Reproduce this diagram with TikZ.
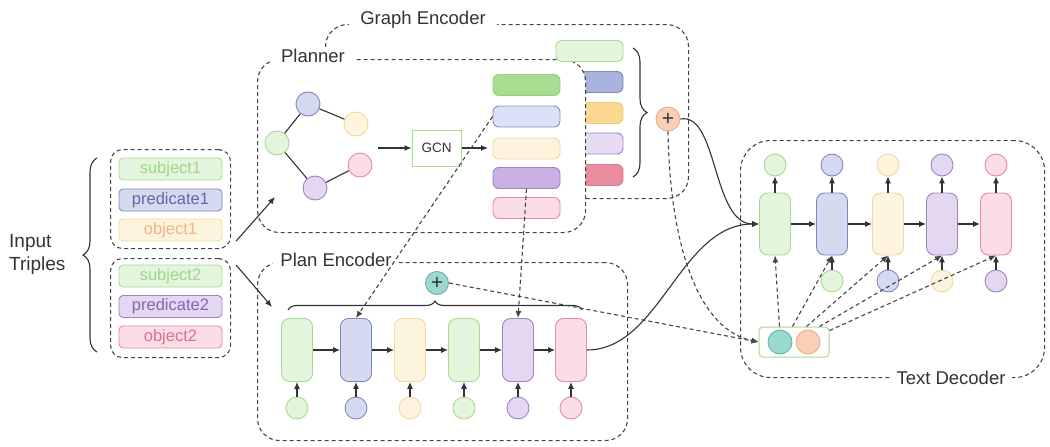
\documentclass[tikz,border=0pt]{standalone}
\usepackage{fontspec}
\setmainfont{Liberation Sans}
\usetikzlibrary{arrows.meta,decorations.pathreplacing,calc}

\definecolor{gF}{HTML}{E4F5DD}
\definecolor{gD}{HTML}{A9DA92}
\definecolor{gF2}{HTML}{A9DD92}
\definecolor{gD2}{HTML}{93CF7C}
\definecolor{gF3}{HTML}{E4F7DE}
\definecolor{bF}{HTML}{D6DAF1}
\definecolor{bD}{HTML}{7F89C1}
\definecolor{bF2}{HTML}{AAB3DE}
\definecolor{bF3}{HTML}{DDE1F5}
\definecolor{bD3}{HTML}{8890C5}
\definecolor{yF}{HTML}{FDF4DE}
\definecolor{yD}{HTML}{F3DA9C}
\definecolor{yF2}{HTML}{FCD993}
\definecolor{yD2}{HTML}{F2CC7A}
\definecolor{pF}{HTML}{E3D7F2}
\definecolor{pD}{HTML}{9E84C4}
\definecolor{pF2}{HTML}{C9B1E3}
\definecolor{pF3}{HTML}{E8DCF4}
\definecolor{rF}{HTML}{FBDDE5}
\definecolor{rD}{HTML}{E38CA2}
\definecolor{rF2}{HTML}{EA8C9F}
\definecolor{rD2}{HTML}{DE7A90}
\definecolor{tF}{HTML}{9ADACE}
\definecolor{tD}{HTML}{66B3A6}
\definecolor{oF}{HTML}{F9CFB8}
\definecolor{oD}{HTML}{EBAA8A}
\definecolor{ln}{HTML}{333333}
\definecolor{dl}{HTML}{444444}
\definecolor{txG}{HTML}{9FD68A}
\definecolor{txB}{HTML}{5E6AA6}
\definecolor{txY}{HTML}{F0B488}
\definecolor{txP}{HTML}{8668B2}
\definecolor{txR}{HTML}{D8728C}

\begin{document}
\begin{tikzpicture}[x=1pt,y=-1pt,
  lbl/.style={font=\fontsize{18.5}{22}\selectfont, text=ln, inner sep=0pt},
  dbox/.style={draw=dl, line width=1.1pt, dash pattern=on 4pt off 3pt, rounded corners=22pt, fill=white, inner sep=0pt},
  tbox/.style={draw=dl, line width=1.1pt, dash pattern=on 4pt off 3pt, rounded corners=12pt, inner sep=0pt, minimum width=120pt, minimum height=99pt},
  trip/.style={rounded corners=4pt, line width=0.9pt, minimum width=103pt, minimum height=22pt, inner sep=0pt, font=\fontsize{16.5}{18}\selectfont},
  bar/.style={rounded corners=6pt, line width=0.9pt, minimum width=67pt, minimum height=21pt, inner sep=0pt},
  cell/.style={rounded corners=8pt, line width=0.9pt, minimum width=31pt, minimum height=63pt, inner sep=0pt},
  circ/.style={circle, line width=0.9pt, minimum size=22pt, inner sep=0pt},
  plus/.style={font=\fontsize{21}{21}\selectfont, text=ln},
  Gs/.style={fill=gF, draw=gD},
  Bs/.style={fill=bF, draw=bD},
  Ys/.style={fill=yF, draw=yD},
  Ps/.style={fill=pF, draw=pD},
  Rs/.style={fill=rF, draw=rD},
  arr/.style={draw=ln, line width=1.1pt, -{Latex[length=7pt,width=6pt]}},
  darr/.style={draw=dl, line width=1.1pt, dash pattern=on 4pt off 3pt, -{Latex[length=7pt,width=6pt]}},
  sline/.style={draw=ln, line width=1.1pt},
  brc/.style={draw=ln, line width=1.1pt, decorate}
]
\useasboundingbox (0,0) rectangle (1050,447);

% ---------------- Input triples
\node[lbl, anchor=west, align=left, font=\fontsize{19}{23}\selectfont] (inp) at (9,254) {Input\\Triples};
\coordinate (brA) at (97,352);
\coordinate (brB) at (97,158);
\draw[brc, decoration={brace, amplitude=14pt}] (brA) -- (brB);

\node[tbox, anchor=north west] (tb1) at (110,149) {};
\node[tbox, anchor=north west] (tb2) at (110,258) {};
\node[trip, Gs, text=txG] (s1) at (170.5,169) {subject1};
\node[trip, Bs, text=txB] (p1) at (170.5,200) {predicate1};
\node[trip, Ys, text=txY] (o1) at (170.5,230) {object1};
\node[trip, Gs, text=txG] (s2) at (170.5,276) {subject2};
\node[trip, Ps, text=txP] (p2) at (170.5,306.5) {predicate2};
\node[trip, Rs, text=txR] (o2) at (170.5,337) {object2};

% ---------------- Graph Encoder
\node[dbox, anchor=north west, minimum width=363pt, minimum height=174pt] (gebox) at (325,24) {};
\node[lbl, fill=white, inner xsep=11pt, inner ysep=2pt] (gelbl) at (423,20) {Graph Encoder};
\node[bar, fill=bF2, draw=bD] (gb2) at (589.5,82) {};
\node[bar, fill=yF2, draw=yD2] (gb3) at (589.5,113) {};
\node[bar, fill=pF3, draw=pD] (gb4) at (589.5,143.5) {};
\node[bar, fill=rF2, draw=rD2] (gb5) at (589.5,175) {};
\coordinate (gbrA) at (633,48);
\coordinate (gbrB) at (633,177);
\draw[brc, decoration={brace, amplitude=14pt}] (gbrA) -- (gbrB);
\node[circ, fill=oF, draw=oD, minimum size=24pt, plus] (oplus) at (668,119) {+};

% ---------------- Planner
\node[dbox, anchor=north west, minimum width=328pt, minimum height=173pt] (plbox) at (257,59) {};
\node[lbl, fill=white, inner xsep=9pt, inner ysep=2pt] (pllbl) at (313,56) {Planner};
\node[bar, fill=gF3, draw=gD] (gb1) at (589.5,51) {};

\node[circ, Bs, minimum size=24pt] (n1) at (308,104) {};
\node[circ, Ys, minimum size=24pt] (n2) at (356,124) {};
\node[circ, Gs, minimum size=24pt] (n3) at (277,143) {};
\node[circ, Rs, minimum size=24pt] (n4) at (360,165) {};
\node[circ, Ps, minimum size=24pt] (n5) at (315,188) {};
\draw[sline] (n3) -- (n1);
\draw[sline] (n1) -- (n2);
\draw[sline] (n3) -- (n5);
\draw[sline] (n5) -- (n4);

\node[draw=gD, fill=white, line width=1pt, minimum width=49pt, minimum height=36pt, inner sep=0pt, font=\fontsize{13.5}{15}\selectfont, text=ln] (gcn) at (436.5,148) {GCN};
\coordinate (gin) at (378,148);
\coordinate (gout) at (488,148);
\draw[arr] (gin) -- (gcn.west);
\draw[arr] (gcn.east) -- (gout);

\node[bar, fill=gF2, draw=gD2] (pb1) at (526.5,85) {};
\node[bar, fill=bF3, draw=bD3] (pb2) at (526.5,116.5) {};
\node[bar, fill=yF, draw=yD] (pb3) at (526.5,148.5) {};
\node[bar, fill=pF2, draw=pD] (pb4) at (526.5,178) {};
\node[bar, fill=rF, draw=rD] (pb5) at (526.5,208) {};

% ---------------- Plan Encoder
\node[dbox, anchor=north west, minimum width=370pt, minimum height=178pt] (pebox) at (257,262) {};
\node[lbl, fill=white, inner xsep=7pt, inner ysep=2pt] (pelbl) at (336,260) {Plan Encoder};
\node[circ, fill=tF, draw=tD, minimum size=23pt, plus] (tplus) at (437,283) {+};
\coordinate (pbrA) at (288,310);
\coordinate (pbrB) at (582,310);
\draw[brc, decoration={brace, amplitude=9pt}] (pbrA) -- (pbrB);

\node[cell, Gs] (c1) at (297,350) {};
\node[cell, Bs] (c2) at (356,350) {};
\node[cell, Ys] (c3) at (410,350) {};
\node[cell, Gs] (c4) at (464,350) {};
\node[cell, Ps] (c5) at (518,350) {};
\node[cell, Rs] (c6) at (571,350) {};
\node[circ, Gs] (e1) at (297,408) {};
\node[circ, Bs] (e2) at (356,408) {};
\node[circ, Ys] (e3) at (410,408) {};
\node[circ, Gs] (e4) at (464,408) {};
\node[circ, Ps] (e5) at (518,408) {};
\node[circ, Rs] (e6) at (571,408) {};
\foreach \i in {1,...,6} {\draw[arr] (e\i) -- (c\i);}
\draw[arr] (c1) -- (c2);
\draw[arr] (c2) -- (c3);
\draw[arr] (c3) -- (c4);
\draw[arr] (c4) -- (c5);
\draw[arr] (c5) -- (c6);

% ---------------- Text Decoder
\node[dbox, anchor=north west, minimum width=304pt, minimum height=237pt, rounded corners=30pt] (tdbox) at (740,140) {};
\node[lbl, fill=white, inner xsep=6pt, inner ysep=2pt] (tdlbl) at (951,378) {Text Decoder};

\node[cell, Gs, minimum height=62pt] (d1) at (775,224) {};
\node[cell, Bs, minimum height=62pt] (d2) at (832,224) {};
\node[cell, Ys, minimum height=62pt] (d3) at (888,224) {};
\node[cell, Ps, minimum height=62pt] (d4) at (942,224) {};
\node[cell, Rs, minimum height=62pt] (d5) at (996,224) {};
\node[circ, Gs] (u1) at (775,165) {};
\node[circ, Bs] (u2) at (832,165) {};
\node[circ, Ys] (u3) at (888,165) {};
\node[circ, Ps] (u4) at (942,165) {};
\node[circ, Rs] (u5) at (996,165) {};
\foreach \i in {1,...,5} {\draw[arr] (d\i) -- (u\i);}
\node[circ, Gs] (v2) at (832,281) {};
\node[circ, Bs] (v3) at (888,281) {};
\node[circ, Ys] (v4) at (942,281) {};
\node[circ, Ps] (v5) at (996,281) {};
\foreach \i in {2,...,5} {\draw[arr] (v\i) -- (d\i);}
\draw[arr] (d1) -- (d2);
\draw[arr] (d2) -- (d3);
\draw[arr] (d3) -- (d4);
\draw[arr] (d4) -- (d5);

\node[draw=gD, fill=white, line width=1pt, rounded corners=4pt, minimum width=70pt, minimum height=30pt, inner sep=0pt] (sb) at (794,342) {};
\node[circ, fill=tF, draw=tD, minimum size=24pt] (sbt) at (780,342) {};
\node[circ, fill=oF, draw=oD, minimum size=24pt] (sbo) at (808,342) {};

\draw[darr] ($(sb.north west)+(21,0)$) -- (d1.south);
\draw[darr] ($(sb.north west)+(34,0)$) -- (d2.south);
\draw[darr] ($(sb.north west)+(48,0)$) -- (d3.south);
\draw[darr] ($(sb.north west)+(61,0)$) -- (d4.south);
\draw[darr] ($(sb.north east)+(0,4)$) -- (d5.south);

% ---------------- connectors between modules
\coordinate (plin) at (275,197);
\coordinate (pein) at (272,307);
\draw[arr] ($(tb1.south east)+(5,-8)$) -- (plin);
\draw[arr] ($(tb2.north east)+(5,7)$) -- (pein);

\draw[darr] (pb2.west) -- (c2.north);
\draw[darr] (pb4.south) -- (c5.north);

\draw[arr] (oplus.east) .. controls (718,112) and (712,224) .. (d1.west);
\draw[arr] (c6.east) .. controls (660,350) and (680,224) .. (d1.west);
\draw[darr] (oplus.south) .. controls (670,250) and (700,330) .. (sb.west);
\draw[darr] (tplus.east) -- (sb.west);
\end{tikzpicture}
\end{document}
